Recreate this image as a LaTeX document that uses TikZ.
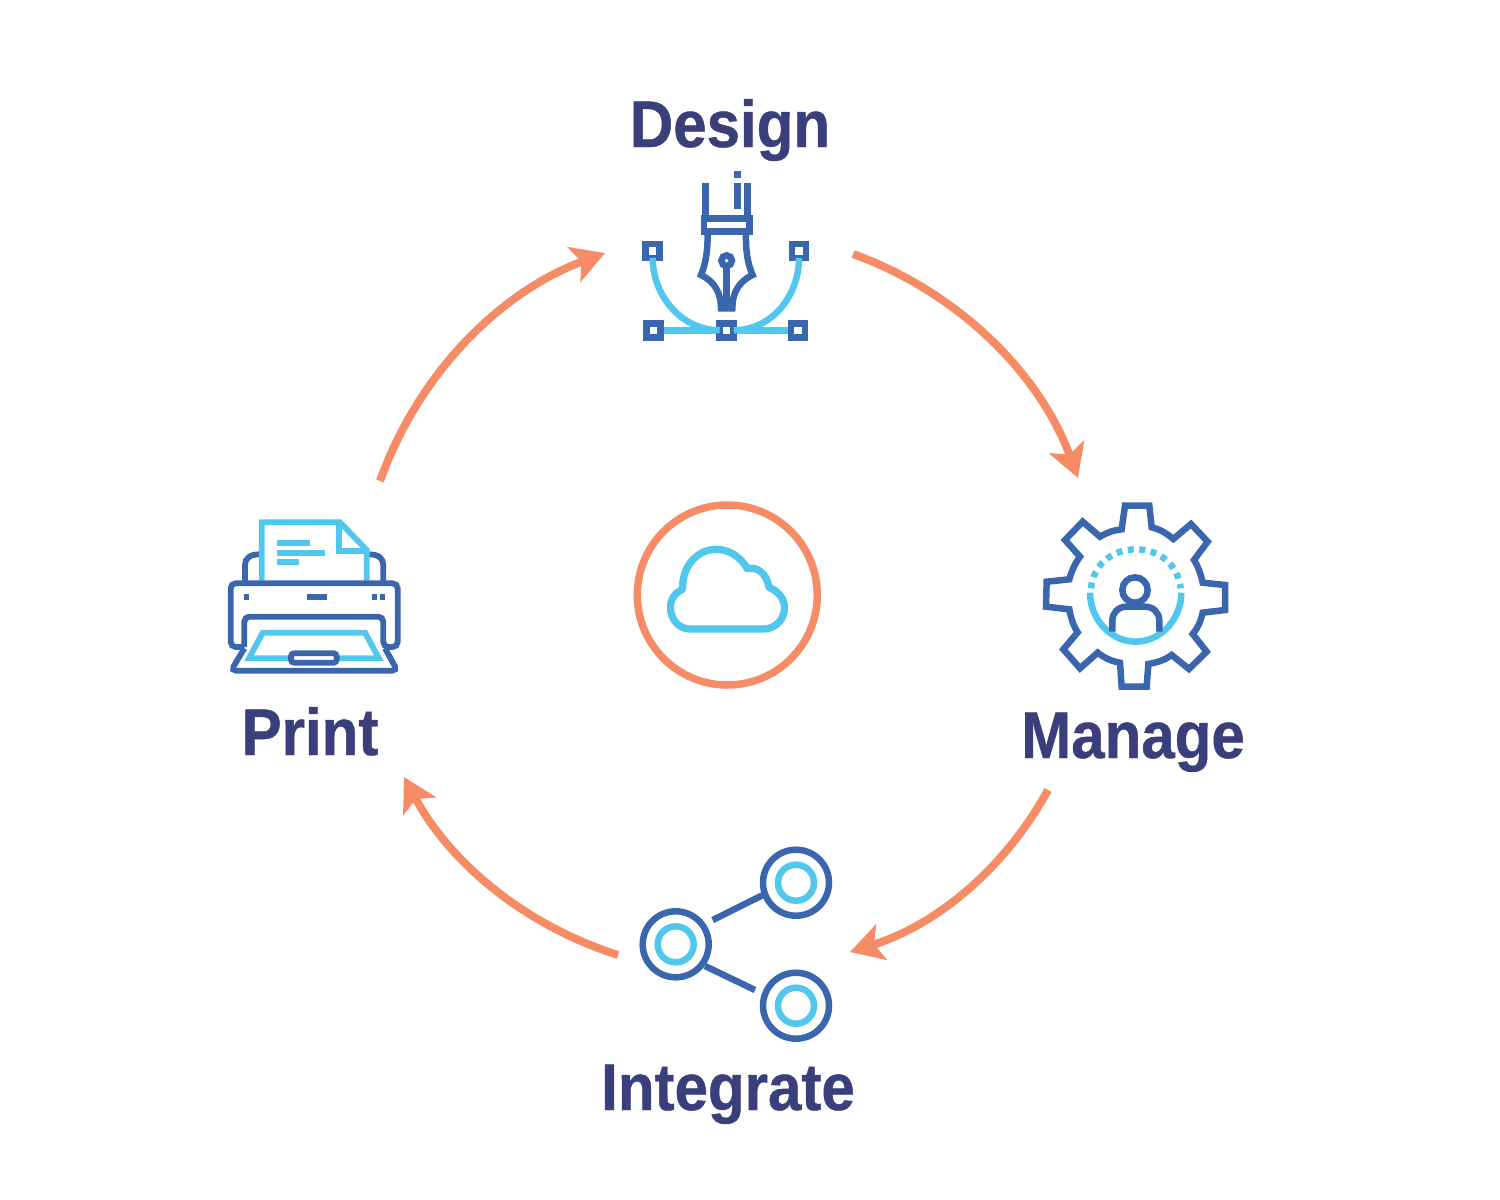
\documentclass[tikz,border=0pt]{standalone}
\usepackage{fontspec}
\setmainfont{Liberation Sans}[BoldFeatures={FakeStretch=0.91,FakeBold=0.7}]
\usetikzlibrary{arrows.meta}
\definecolor{iconblue}{HTML}{3A66AE}
\definecolor{iconsky}{HTML}{52C7EE}
\definecolor{cycleorange}{HTML}{F68C66}
\definecolor{labelnavy}{HTML}{3A3F7C}
\tikzset{
	steplabel/.style={anchor=base,text=labelnavy,font=\fontsize{66}{66}\selectfont\bfseries},
	cyclearrow/.style={cycleorange,line width=8pt,-{Stealth[length=33pt,width=37pt,inset=8pt]}},
	darkline/.style={iconblue,line width=6.5pt,line join=miter},
	skyline/.style={iconsky,line width=6.5pt},
	printdark/.style={iconblue,line width=5.8pt},
	printsky/.style={iconsky,line width=5.8pt},
	handle/.style={draw=iconblue,line width=6.5pt,fill=white,rectangle,minimum size=14pt,inner sep=0pt},
	ring/.style={draw,circle,inner sep=0pt,line width=6.5pt}
}
\begin{document}
\begin{tikzpicture}[x=1pt,y=-1pt]
	\useasboundingbox (0,0) rectangle (1500,1200);

	% Titoli
	\node[steplabel] (design) at (730,147) {Design};
	\node[steplabel] (manage) at (1133,758) {Manage};
	\node[steplabel] (integrate) at (728,1110) {Integrate};
	\node[steplabel] (print) at (310,755) {Print};

	% Frecce del ciclo
	\coordinate (designOut) at (853,254);
	\coordinate (manageIn) at (1078,478);
	\coordinate (manageOut) at (1048,790);
	\coordinate (integrateIn) at (850,952);
	\coordinate (integrateOut) at (618,955);
	\coordinate (printIn) at (404,777);
	\coordinate (printOut) at (380,481);
	\coordinate (designIn) at (605,253);
	\draw[cyclearrow] (designOut) to[bend left=25,looseness=.9] (manageIn);
	\draw[cyclearrow] (manageOut) to[bend left=22,looseness=.9] (integrateIn);
	\draw[cyclearrow] (integrateOut) to[bend left=22,looseness=.9] (printIn);
	\draw[cyclearrow] (printOut) to[bend left=25,looseness=.9] (designIn);

	% Nuvola al centro
	\node[draw=cycleorange,circle,line width=7.5pt,minimum size=180pt,inner sep=0pt] (hub) at (727.3,595) {};
	\begin{scope}[shift={(625,490)},scale=1/3]
		\draw[iconsky,line width=7.3pt,line join=round]
		(195,417) -- (415,417) .. controls (480,417) and (510,325) .. (432,292)
		.. controls (425,250) and (395,228) .. (367,236)
		.. controls (340,190) and (300,178) .. (275,178)
		.. controls (215,178) and (170,230) .. (173,298)
		.. controls (110,325) and (135,417) .. cycle;
	\end{scope}

	% Pennino
	\begin{scope}[shift={(620,160)},scale=1/3]
		\draw[darkline] (257,70) -- (257,176);
		\draw[darkline] (383,70) -- (383,176);
		\draw[darkline] (352,70) -- (352,148);
		\draw[darkline] (352,33) -- (352,55);
		\draw[darkline] (252,176) rectangle (388,214);
		\draw[darkline] (263,223) .. controls (263,270) and (258,310) .. (243,345)
		.. controls (285,365) and (303,400) .. (303,445) -- (337,445)
		.. controls (337,400) and (355,365) .. (398,345)
		.. controls (382,310) and (377,270) .. (378,223);
		\draw[darkline] (320,318) -- (320,445);
		\draw[darkline] (320,302) circle (16);
	\end{scope}
	\node[handle] (handleTL) at (652.7,251) {};
	\node[handle] (handleTR) at (799,251) {};
	\node[handle] (handleBL) at (653.3,330.3) {};
	\node[handle] (handleBM) at (726.7,330.3) {};
	\node[handle] (handleBR) at (798,330.3) {};
	\draw[skyline,shorten <=7pt,shorten >=7pt] (handleTL.center) .. controls +(0,45) and +(-45,0) .. (handleBM.center);
	\draw[skyline,shorten <=7pt,shorten >=7pt] (handleTR.center) .. controls +(0,45) and +(45,0) .. (handleBM.center);
	\draw[skyline] (handleBL) -- (handleBM);
	\draw[skyline] (handleBM) -- (handleBR);

	% Ingranaggio con persona
	\begin{scope}[shift={(1030,490)},scale=1/3]
		\draw[darkline,line join=miter]
		(285,47) -- (358,47) -- (365,112) .. controls (390,118) and (410,130) .. (430,147)
		-- (483,102) -- (533,155) -- (492,210) .. controls (505,230) and (513,255) .. (518,278)
		-- (585,285) -- (585,360) -- (518,368) .. controls (512,395) and (503,415) .. (488,432)
		-- (530,485) -- (477,537) -- (425,495) .. controls (405,510) and (380,518) .. (355,522)
		-- (350,590) -- (275,590) -- (270,518) .. controls (245,514) and (222,503) .. (203,488)
		-- (150,535) -- (100,478) -- (143,427) .. controls (130,407) and (122,382) .. (118,358)
		-- (48,350) -- (50,275) -- (118,268) .. controls (124,245) and (135,220) .. (150,200)
		-- (105,150) -- (158,95) -- (210,140) .. controls (230,128) and (252,120) .. (275,118) -- cycle;
		\draw[skyline] (180,308) .. controls (180,385) and (240,455) .. (317,455) .. controls (394,455) and (454,385) .. (454,308);
		\draw[skyline,dash pattern=on 6pt off 5.5pt] (183,295) .. controls (190,225) and (245,178) .. (317,178) .. controls (389,178) and (444,225) .. (452,295);
		\draw[darkline] (315,300) circle (38);
		\draw[darkline] (247,425) -- (247,392) .. controls (247,368) and (265,350) .. (290,350) -- (345,350) .. controls (370,350) and (388,368) .. (388,392) -- (388,425);
	\end{scope}

	% Stampante
	\begin{scope}[shift={(215,510)},scale=1/3]
		\draw[printdark] (90,215) -- (90,165) .. controls (90,145) and (105,133) .. (133,133);
		\draw[printdark] (505,215) -- (505,165) .. controls (505,145) and (490,133) .. (463,133);
		\draw[printsky] (140,212) -- (140,37) -- (375,37) -- (455,120) -- (455,212);
		\draw[printsky] (372,37) -- (372,122) -- (455,122);
		\draw[printsky] (185,100) -- (285,100);
		\draw[printsky] (185,128) -- (330,128);
		\draw[printsky] (185,155) -- (253,155);
		\draw[printdark,rounded corners=5pt] (88,411) -- (47,411) -- (47,220) -- (548,220) -- (548,411) -- (505,411) -- (505,320) -- (88,320) -- (88,411);
		\draw[printdark] (87,262) -- (103,262);
		\draw[printdark] (275,262) -- (335,262);
		\draw[printdark] (470,262) -- (485,262);
		\draw[printdark] (494,262) -- (510,262);
		\draw[printdark,rounded corners=5pt] (88,415) -- (48,482) -- (547,482) -- (510,415);
		\draw[printsky] (102,445) -- (143,368) -- (450,368) -- (492,445) -- cycle;
		\draw[printdark,fill=white,rounded corners=3pt] (228,430) rectangle (365,458);
	\end{scope}

	% Nodi collegati
	\node[ring,iconblue,minimum size=66pt] (shareHub) at (675.7,944.3) {};
	\node[ring,iconblue,minimum size=66pt] (shareTop) at (796,882.7) {};
	\node[ring,iconblue,minimum size=66pt] (shareBot) at (796,1005.7) {};
	\node[ring,iconsky,minimum size=36pt] at (shareHub) {};
	\node[ring,iconsky,minimum size=36pt] at (shareTop) {};
	\node[ring,iconsky,minimum size=36pt] at (shareBot) {};
	\coordinate (linkA) at (712.7,920);
	\coordinate (linkB) at (705,966);
	\coordinate (linkC) at (755,990);
	\coordinate (linkD) at (763,895);
	\draw[darkline] (linkA) -- (linkD);
	\draw[darkline] (linkB) -- (linkC);
\end{tikzpicture}
\end{document}
